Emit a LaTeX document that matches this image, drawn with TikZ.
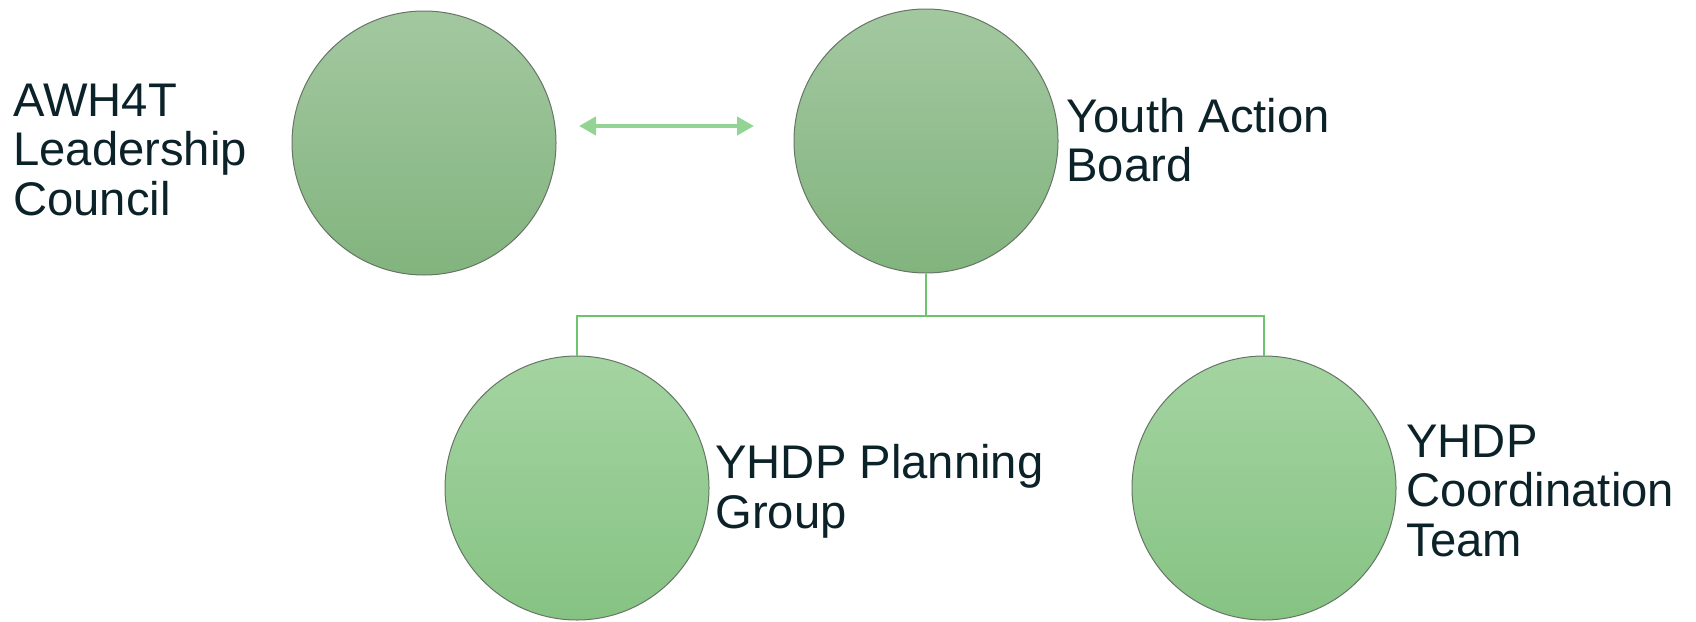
\documentclass[tikz,border=0pt]{standalone}
\usepackage{fontspec}
\setmainfont{Liberation Sans}
\usetikzlibrary{arrows.meta}
\definecolor{txt}{HTML}{0B2228}
\definecolor{topA}{HTML}{A3C8A0}
\definecolor{botA}{HTML}{82B47E}
\definecolor{topB}{HTML}{A4D4A1}
\definecolor{botB}{HTML}{86C383}
\definecolor{rim}{HTML}{667566}
\definecolor{conn}{HTML}{6CC46C}
\definecolor{arr}{HTML}{93D393}
\tikzset{
  ball/.style={circle, draw=rim, line width=0.5pt, minimum size=132pt, inner sep=0pt},
  ballA/.style={ball, top color=topA, bottom color=botA},
  ballB/.style={ball, top color=topB, bottom color=botB},
  lbl/.style={anchor=base west, inner sep=0pt, align=left, text=txt,
              font=\fontsize{23.6pt}{24.65pt}\selectfont},
  connline/.style={draw=conn, line width=1.1pt},
  dblarrow/.style={draw=arr, line width=2.4pt,
     {Triangle[width=9pt,length=8.5pt]}-{Triangle[width=9pt,length=8.5pt]}}
}
\begin{document}
\begin{tikzpicture}[x=0.5pt,y=-0.5pt]
\useasboundingbox (0,0) rectangle (1696,621);
\node[ballA] (c1) at (424,143) {};
\node[ballA] (c2) at (926,141) {};
\node[ballB] (c3) at (577,488) {};
\node[ballB] (c4) at (1264,488) {};
% anchors are at the baseline of the last line
\node[lbl] (t1) at (13,215) {AWH4T\\Leadership\\Council};
\node[lbl] (t2) at (1066,181.7) {Youth Action\\Board};
\node[lbl] (t3) at (715,528) {YHDP Planning\\Group};
\node[lbl] (t4) at (1406,556) {YHDP\\Coordination\\Team};
\coordinate (al) at (579,126);
\coordinate (ar) at (754,126);
\draw[dblarrow] (al) -- (ar);
\coordinate (bus) at (926,316);
\draw[connline] (c2.south) -- (bus);
\draw[connline] (c3.north) |- (bus) -| (c4.north);
\end{tikzpicture}
\end{document}
